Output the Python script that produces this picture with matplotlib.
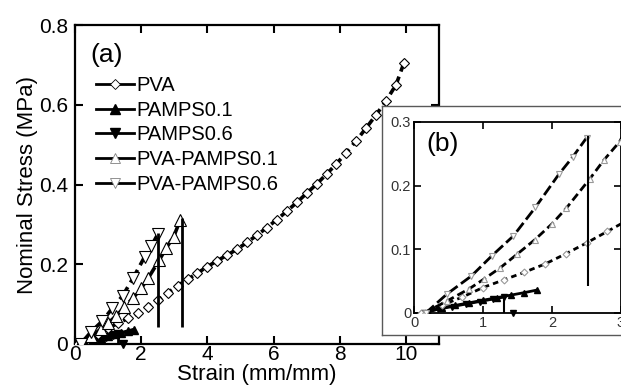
import matplotlib
matplotlib.use("Agg")
import matplotlib.pyplot as plt
from matplotlib.lines import Line2D

plt.rcParams["font.family"] = ["Liberation Sans", "DejaVu Sans"]

# ---- data ----
pva_strain = [0.1, 0.4, 0.7, 1.0, 1.3, 1.6, 1.9, 2.2, 2.5, 2.8, 3.1, 3.4, 3.7, 4.0,
              4.3, 4.6, 4.9, 5.2, 5.5, 5.8, 6.1, 6.4, 6.7, 7.0, 7.3, 7.6, 7.9, 8.2,
              8.5, 8.8, 9.1, 9.4, 9.7, 9.94]
pva_stress = [0.0, 0.012, 0.025, 0.040, 0.052, 0.064, 0.077, 0.093, 0.110, 0.128,
              0.146, 0.162, 0.178, 0.194, 0.209, 0.223, 0.238, 0.255, 0.273, 0.292,
              0.312, 0.333, 0.355, 0.378, 0.401, 0.426, 0.452, 0.480, 0.510, 0.542,
              0.575, 0.610, 0.650, 0.705]

pamps01_strain = [0.2, 0.4, 0.6, 0.8, 1.0, 1.2, 1.4, 1.6, 1.78]
pamps01_stress = [0.002, 0.008, 0.012, 0.016, 0.020, 0.024, 0.028, 0.032, 0.036]

pamps06_strain = [0.15, 0.35, 0.55, 0.75, 0.95, 1.15, 1.3]
pamps06_stress = [0.0, 0.006, 0.010, 0.014, 0.018, 0.022, 0.025]

pp01_strain = [0.15, 0.48, 0.8, 1.01, 1.25, 1.49, 1.75, 2.0, 2.21, 2.55, 2.75, 2.98, 3.18]
pp01_stress = [0.0, 0.019, 0.038, 0.053, 0.071, 0.092, 0.115, 0.14, 0.165, 0.211,
               0.24, 0.269, 0.311]

pp06_strain = [0.17, 0.48, 0.83, 1.13, 1.44, 1.76, 2.10, 2.30, 2.50]
pp06_stress = [0.0, 0.030, 0.058, 0.090, 0.121, 0.166, 0.218, 0.245, 0.275]

# fracture drops: (strain, top stress, bottom stress)
drop_strain = [1.3, 2.52, 3.22]
drop_top = [0.025, 0.278, 0.315]
drop_bottom = [0.0, 0.043, 0.043]
pamps06_end = (1.44, 0.0)

LABELS = ["PVA", "PAMPS0.1", "PAMPS0.6", "PVA-PAMPS0.1", "PVA-PAMPS0.6"]


def draw_curves(ax, ms, lw, open_edge, drop_lw, dia_scale):
    # PAMPS (solid, filled markers)
    ax.plot(pamps01_strain, pamps01_stress, "-", color="k", lw=lw,
            marker="^", ms=ms * 0.8, mfc="k", mec="k", zorder=3)
    ax.plot(pamps06_strain, pamps06_stress, "-", color="k", lw=lw,
            marker="v", ms=ms * 0.8, mfc="k", mec="k", zorder=3)
    ax.plot([pamps06_end[0]], [pamps06_end[1]], "v", color="k", ms=ms * 0.8,
            clip_on=False, zorder=3)
    # PVA and the hybrids (dashed, open markers)
    ax.plot(pva_strain, pva_stress, color="k", lw=lw, dashes=(2.0, 1.5),
            marker="D", ms=ms * dia_scale, mfc="white", mec=open_edge, mew=0.8,
            zorder=4)
    ax.plot(pp01_strain, pp01_stress, color="k", lw=lw, dashes=(3.0, 1.5),
            marker="^", ms=ms, mfc="white", mec=open_edge, mew=0.8, zorder=4)
    ax.plot(pp06_strain, pp06_stress, color="k", lw=lw, dashes=(4.0, 1.5),
            marker="v", ms=ms, mfc="white", mec=open_edge, mew=0.8, zorder=4)
    ax.vlines(drop_strain, drop_bottom, drop_top, color="k", lw=drop_lw, zorder=5)


fig = plt.figure(figsize=(6.21, 3.89), dpi=100)

# ---- main panel ----
ax = fig.add_axes([0.1208, 0.1157, 0.5862, 0.8200])
draw_curves(ax, ms=8, lw=2.6, open_edge="k", drop_lw=2.0, dia_scale=0.6)
ax.set_xlim(0, 11)
ax.set_ylim(0, 0.8)
ax.set_xticks([0, 2, 4, 6, 8, 10])
ax.set_yticks([0, 0.2, 0.4, 0.6, 0.8])
ax.set_yticklabels(["0", "0.2", "0.4", "0.6", "0.8"])
ax.tick_params(direction="in", top=True, right=True, length=6, width=1.5,
               labelsize=15)
ax.tick_params(axis="x", pad=1)
ax.tick_params(axis="y", pad=5)
for sp in ax.spines.values():
    sp.set_linewidth(1.6)
ax.set_xlabel("Strain (mm/mm)", fontsize=16, labelpad=0)
ax.set_ylabel("Nominal Stress (MPa)", fontsize=16, labelpad=1)
ax.text(0.087, 0.905, "(a)", transform=ax.transAxes, fontsize=19,
        ha="center", va="center")

handles = [
    Line2D([], [], color="k", lw=2, marker="D", ms=5.5, mfc="white", mec="k", mew=0.6),
    Line2D([], [], color="k", lw=2, marker="^", ms=7, mfc="k", mec="k"),
    Line2D([], [], color="k", lw=2, marker="v", ms=7, mfc="k", mec="k"),
    Line2D([], [], color="k", lw=2, marker="^", ms=7, mfc="white", mec="0.5", mew=0.6),
    Line2D([], [], color="k", lw=2, marker="v", ms=7, mfc="white", mec="0.5", mew=0.6),
]
ax.legend(handles, LABELS, loc="upper left", bbox_to_anchor=(0.057, 0.84),
          frameon=False, fontsize=14.5, handlelength=1.9, handletextpad=0.1,
          labelspacing=0.28, borderaxespad=0, borderpad=0)

# ---- inset frame ----
frame = fig.add_axes([0.615, 0.1388, 0.40, 0.5887])
frame.set_xticks([])
frame.set_yticks([])
for sp in frame.spines.values():
    sp.set_color("0.35")
    sp.set_linewidth(1.0)

# ---- inset (b) ----
ins = fig.add_axes([0.6667, 0.1954, 0.3333, 0.4910])
draw_curves(ins, ms=5, lw=2.0, open_edge="0.6", drop_lw=1.5, dia_scale=0.7)
ins.set_xlim(0, 3)
ins.set_ylim(0, 0.3)
ins.set_xticks([0, 1, 2, 3])
ins.set_yticks([0, 0.1, 0.2, 0.3])
ins.set_yticklabels(["0", "0.1", "0.2", "0.3"])
ins.tick_params(direction="in", top=True, right=True, length=5, width=1.2,
                labelsize=10.5, pad=2, labelcolor="0.2")
for sp in ins.spines.values():
    sp.set_linewidth(1.3)
ins.text(0.138, 0.885, "(b)", transform=ins.transAxes, fontsize=19,
         ha="center", va="center")

fig.savefig("out.png", dpi=100)
